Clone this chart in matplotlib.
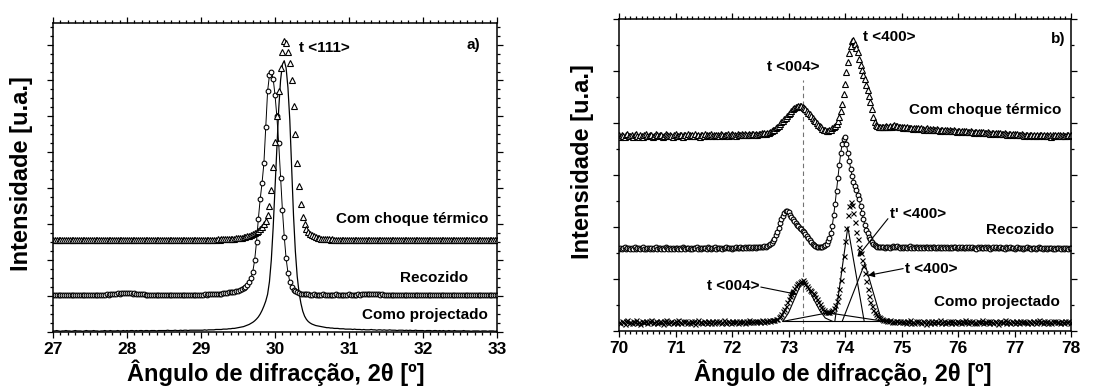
import numpy as np
import matplotlib
matplotlib.use("Agg")
import matplotlib.pyplot as plt
from matplotlib.ticker import MultipleLocator

plt.rcParams['font.family'] = ['Liberation Sans', 'DejaVu Sans']
plt.rcParams['font.weight'] = 'bold'

# ---- a) pico t<111>, varrimento 27-33 graus, passo 0.025 ----
x_a = np.linspace(27, 33, 241)

como_a = [
    0.03, 0.03, 0.04, 0.03, 0.02, 0.03, 0.03, 0.04, 0.03, 0.03,
    0.02, 0.03, 0.04, 0.03, 0.03, 0.03, 0.02, 0.03, 0.04, 0.03,
    0.03, 0.03, 0.04, 0.03, 0.03, 0.02, 0.03, 0.03, 0.04, 0.03,
    0.03, 0.04, 0.03, 0.03, 0.03, 0.04, 0.03, 0.03, 0.04, 0.03,
    0.04, 0.03, 0.04, 0.04, 0.03, 0.04, 0.03, 0.04, 0.04, 0.03,
    0.04, 0.04, 0.03, 0.04, 0.04, 0.04, 0.03, 0.04, 0.04, 0.04,
    0.04, 0.04, 0.05, 0.04, 0.04, 0.04, 0.05, 0.04, 0.04, 0.05,
    0.04, 0.05, 0.05, 0.04, 0.05, 0.05, 0.05, 0.05, 0.05, 0.05,
    0.05, 0.05, 0.06, 0.05, 0.06, 0.06, 0.06, 0.06, 0.07, 0.07,
    0.07, 0.07, 0.08, 0.08, 0.08, 0.09, 0.09, 0.10, 0.10, 0.11,
    0.12, 0.13, 0.14, 0.15, 0.17, 0.19, 0.21, 0.24, 0.27, 0.31,
    0.36, 0.42, 0.50, 0.60, 0.72, 0.86, 1.05, 1.40, 2.00, 2.90,
    4.00, 5.15, 6.20, 7.00, 7.45, 7.55, 7.35, 6.80, 5.90, 4.60,
    3.25, 2.25, 1.55, 1.10, 0.80, 0.58, 0.44, 0.35, 0.29, 0.25,
    0.22, 0.20, 0.18, 0.17, 0.16, 0.15, 0.14, 0.13, 0.12, 0.12,
    0.11, 0.11, 0.10, 0.10, 0.10, 0.09, 0.09, 0.09, 0.08, 0.08,
    0.08, 0.08, 0.07, 0.08, 0.07, 0.07, 0.07, 0.06, 0.07, 0.06,
    0.06, 0.06, 0.07, 0.06, 0.06, 0.05, 0.06, 0.06, 0.05, 0.06,
    0.05, 0.05, 0.06, 0.05, 0.05, 0.05, 0.04, 0.05, 0.05, 0.05,
    0.04, 0.05, 0.04, 0.05, 0.04, 0.04, 0.05, 0.04, 0.04, 0.04,
    0.04, 0.03, 0.04, 0.04, 0.04, 0.03, 0.04, 0.04, 0.03, 0.04,
    0.03, 0.04, 0.03, 0.03, 0.04, 0.03, 0.03, 0.04, 0.03, 0.03,
    0.03, 0.03, 0.04, 0.03, 0.03, 0.03, 0.02, 0.03, 0.03, 0.03,
    0.03, 0.02, 0.03, 0.03, 0.03, 0.02, 0.03, 0.03, 0.03, 0.02,
    0.03,
]

recozido_a = [
    1.03, 1.02, 1.04, 1.03, 1.02, 1.03, 1.04, 1.02, 1.03, 1.03,
    1.02, 1.04, 1.03, 1.02, 1.03, 1.04, 1.03, 1.02, 1.03, 1.04,
    1.03, 1.03, 1.02, 1.04, 1.03, 1.03, 1.04, 1.03, 1.04, 1.05,
    1.04, 1.05, 1.06, 1.06, 1.07, 1.08, 1.07, 1.08, 1.09, 1.08,
    1.08, 1.09, 1.08, 1.07, 1.08, 1.07, 1.06, 1.06, 1.05, 1.05,
    1.04, 1.04, 1.03, 1.04, 1.03, 1.03, 1.04, 1.03, 1.02, 1.03,
    1.03, 1.04, 1.03, 1.02, 1.03, 1.03, 1.04, 1.03, 1.03, 1.02,
    1.03, 1.04, 1.03, 1.03, 1.04, 1.03, 1.04, 1.04, 1.03, 1.04,
    1.04, 1.04, 1.05, 1.04, 1.05, 1.05, 1.05, 1.06, 1.06, 1.06,
    1.07, 1.07, 1.08, 1.08, 1.09, 1.10, 1.11, 1.11, 1.12, 1.13,
    1.14, 1.16, 1.19, 1.22, 1.26, 1.31, 1.38, 1.50, 1.68, 2.00,
    2.50, 3.15, 3.70, 4.15, 4.70, 5.70, 6.70, 7.15, 7.25, 7.05,
    6.60, 6.00, 5.25, 4.30, 3.40, 2.65, 2.05, 1.65, 1.40, 1.26,
    1.18, 1.13, 1.10, 1.08, 1.07, 1.06, 1.06, 1.05, 1.05, 1.04,
    1.04, 1.05, 1.04, 1.04, 1.03, 1.04, 1.05, 1.04, 1.03, 1.04,
    1.04, 1.03, 1.04, 1.05, 1.04, 1.03, 1.04, 1.04, 1.03, 1.04,
    1.05, 1.04, 1.04, 1.03, 1.04, 1.05, 1.04, 1.05, 1.05, 1.06,
    1.06, 1.07, 1.06, 1.07, 1.06, 1.05, 1.05, 1.04, 1.05, 1.04,
    1.03, 1.04, 1.04, 1.03, 1.04, 1.03, 1.04, 1.03, 1.03, 1.04,
    1.03, 1.04, 1.03, 1.02, 1.03, 1.04, 1.03, 1.03, 1.02, 1.03,
    1.04, 1.03, 1.02, 1.03, 1.03, 1.04, 1.03, 1.02, 1.03, 1.03,
    1.02, 1.03, 1.04, 1.03, 1.03, 1.02, 1.03, 1.03, 1.04, 1.03,
    1.02, 1.03, 1.03, 1.02, 1.03, 1.04, 1.03, 1.02, 1.03, 1.03,
    1.02, 1.03, 1.03, 1.04, 1.03, 1.02, 1.03, 1.03, 1.02, 1.03,
    1.04,
]

choque_a = [
    2.56, 2.55, 2.57, 2.56, 2.55, 2.56, 2.57, 2.56, 2.55, 2.56,
    2.57, 2.56, 2.55, 2.56, 2.56, 2.57, 2.55, 2.56, 2.57, 2.56,
    2.56, 2.55, 2.56, 2.57, 2.56, 2.56, 2.55, 2.57, 2.56, 2.56,
    2.57, 2.56, 2.55, 2.56, 2.57, 2.56, 2.56, 2.55, 2.56, 2.57,
    2.56, 2.56, 2.57, 2.55, 2.56, 2.56, 2.57, 2.56, 2.55, 2.56,
    2.56, 2.57, 2.56, 2.56, 2.55, 2.56, 2.57, 2.56, 2.56, 2.55,
    2.56, 2.57, 2.56, 2.56, 2.55, 2.56, 2.56, 2.57, 2.56, 2.56,
    2.55, 2.56, 2.57, 2.56, 2.56, 2.56, 2.57, 2.56, 2.56, 2.57,
    2.56, 2.57, 2.56, 2.56, 2.57, 2.57, 2.56, 2.57, 2.57, 2.58,
    2.57, 2.58, 2.58, 2.58, 2.59, 2.59, 2.59, 2.60, 2.60, 2.61,
    2.61, 2.62, 2.63, 2.64, 2.65, 2.67, 2.68, 2.70, 2.72, 2.75,
    2.78, 2.82, 2.87, 2.93, 3.00, 3.10, 3.25, 3.50, 3.95, 4.60,
    5.30, 6.00, 6.70, 7.35, 7.80, 8.10, 8.05, 7.80, 7.50, 7.00,
    6.30, 5.50, 4.70, 4.05, 3.55, 3.20, 3.00, 2.87, 2.79, 2.73,
    2.69, 2.66, 2.64, 2.62, 2.61, 2.60, 2.59, 2.59, 2.58, 2.58,
    2.57, 2.58, 2.57, 2.57, 2.56, 2.57, 2.57, 2.56, 2.57, 2.56,
    2.56, 2.57, 2.56, 2.55, 2.56, 2.57, 2.56, 2.56, 2.55, 2.56,
    2.57, 2.56, 2.56, 2.55, 2.56, 2.56, 2.57, 2.56, 2.55, 2.56,
    2.56, 2.57, 2.56, 2.56, 2.55, 2.56, 2.57, 2.56, 2.56, 2.55,
    2.56, 2.56, 2.57, 2.56, 2.55, 2.56, 2.56, 2.57, 2.56, 2.56,
    2.55, 2.56, 2.57, 2.56, 2.56, 2.55, 2.56, 2.57, 2.56, 2.56,
    2.56, 2.55, 2.56, 2.57, 2.56, 2.56, 2.55, 2.56, 2.56, 2.57,
    2.56, 2.55, 2.56, 2.56, 2.57, 2.56, 2.55, 2.56, 2.56, 2.57,
    2.56, 2.56, 2.55, 2.56, 2.57, 2.56, 2.56, 2.55, 2.56, 2.56,
    2.57,
]

# ---- b) picos t<004>/t<400>, varrimento 70-78 graus, passo 0.025 ----
x_b = np.linspace(70, 78, 321)

choque_b = [
    7.52, 7.48, 7.55, 7.50, 7.46, 7.53, 7.57, 7.49, 7.51, 7.55,
    7.47, 7.52, 7.56, 7.50, 7.48, 7.54, 7.51, 7.46, 7.53, 7.57,
    7.50, 7.49, 7.55, 7.52, 7.47, 7.51, 7.56, 7.53, 7.49, 7.52,
    7.55, 7.48, 7.51, 7.57, 7.52, 7.49, 7.54, 7.50, 7.47, 7.53,
    7.56, 7.51, 7.49, 7.54, 7.52, 7.48, 7.55, 7.53, 7.50, 7.57,
    7.52, 7.49, 7.54, 7.51, 7.56, 7.50, 7.53, 7.48, 7.55, 7.52,
    7.50, 7.56, 7.53, 7.49, 7.52, 7.57, 7.51, 7.54, 7.50, 7.55,
    7.53, 7.49, 7.56, 7.52, 7.50, 7.55, 7.53, 7.58, 7.51, 7.54,
    7.56, 7.52, 7.55, 7.50, 7.57, 7.54, 7.52, 7.56, 7.53, 7.58,
    7.55, 7.52, 7.57, 7.54, 7.56, 7.59, 7.53, 7.57, 7.55, 7.58,
    7.56, 7.60, 7.57, 7.61, 7.59, 7.63, 7.62, 7.66, 7.68, 7.72,
    7.75, 7.80, 7.84, 7.90, 7.95, 8.02, 8.08, 8.14, 8.20, 8.27,
    8.33, 8.40, 8.46, 8.52, 8.56, 8.60, 8.63, 8.65, 8.66, 8.64,
    8.62, 8.58, 8.53, 8.47, 8.40, 8.33, 8.26, 8.19, 8.12, 8.06,
    8.00, 7.94, 7.88, 7.83, 7.78, 7.74, 7.72, 7.70, 7.70, 7.72,
    7.75, 7.79, 7.84, 7.90, 7.98, 8.08, 8.22, 8.45, 8.75, 9.10,
    9.50, 9.95, 10.35, 10.70, 10.98, 11.15, 11.20, 11.05, 10.88, 10.72,
    10.48, 10.22, 10.02, 9.85, 9.68, 9.48, 9.28, 9.05, 8.80, 8.52,
    8.25, 8.05, 7.93, 7.88, 7.85, 7.84, 7.86, 7.83, 7.85, 7.87,
    7.84, 7.86, 7.88, 7.85, 7.89, 7.91, 7.88, 7.90, 7.86, 7.84,
    7.85, 7.82, 7.84, 7.80, 7.83, 7.81, 7.79, 7.82, 7.78, 7.80,
    7.81, 7.77, 7.79, 7.76, 7.80, 7.78, 7.75, 7.77, 7.79, 7.74,
    7.76, 7.73, 7.77, 7.75, 7.72, 7.76, 7.74, 7.71, 7.75, 7.73,
    7.70, 7.74, 7.72, 7.69, 7.73, 7.71, 7.68, 7.72, 7.70, 7.67,
    7.71, 7.69, 7.66, 7.70, 7.68, 7.65, 7.69, 7.67, 7.64, 7.68,
    7.66, 7.63, 7.67, 7.65, 7.62, 7.66, 7.64, 7.61, 7.65, 7.63,
    7.60, 7.64, 7.62, 7.59, 7.63, 7.61, 7.58, 7.62, 7.60, 7.57,
    7.61, 7.59, 7.56, 7.60, 7.58, 7.55, 7.59, 7.57, 7.54, 7.58,
    7.56, 7.53, 7.57, 7.55, 7.52, 7.56, 7.54, 7.51, 7.55, 7.53,
    7.50, 7.54, 7.52, 7.49, 7.53, 7.51, 7.55, 7.50, 7.52, 7.54,
    7.49, 7.53, 7.51, 7.55, 7.50, 7.52, 7.48, 7.53, 7.51, 7.54,
    7.50, 7.52, 7.55, 7.49, 7.53, 7.51, 7.50, 7.54, 7.52, 7.49,
    7.52,
]

recozido_b = [
    3.17, 3.20, 3.15, 3.19, 3.22, 3.16, 3.18, 3.21, 3.14, 3.19,
    3.17, 3.22, 3.16, 3.18, 3.20, 3.15, 3.19, 3.23, 3.17, 3.16,
    3.20, 3.18, 3.15, 3.21, 3.17, 3.19, 3.22, 3.16, 3.18, 3.20,
    3.15, 3.19, 3.17, 3.22, 3.18, 3.16, 3.20, 3.17, 3.19, 3.15,
    3.21, 3.18, 3.16, 3.20, 3.17, 3.22, 3.18, 3.15, 3.19, 3.21,
    3.17, 3.19, 3.16, 3.20, 3.18, 3.22, 3.17, 3.19, 3.16, 3.21,
    3.18, 3.20, 3.17, 3.23, 3.19, 3.16, 3.20, 3.18, 3.22, 3.17,
    3.19, 3.21, 3.18, 3.16, 3.20, 3.19, 3.22, 3.18, 3.21, 3.19,
    3.17, 3.21, 3.19, 3.23, 3.18, 3.20, 3.22, 3.19, 3.21, 3.24,
    3.20, 3.22, 3.19, 3.23, 3.21, 3.24, 3.22, 3.20, 3.25, 3.23,
    3.22, 3.25, 3.23, 3.26, 3.25, 3.28, 3.30, 3.34, 3.38, 3.45,
    3.55, 3.68, 3.82, 3.98, 4.15, 4.30, 4.44, 4.55, 4.62, 4.63,
    4.58, 4.48, 4.38, 4.30, 4.22, 4.15, 4.08, 4.02, 3.96, 3.91,
    3.86, 3.80, 3.73, 3.65, 3.57, 3.50, 3.42, 3.36, 3.31, 3.27,
    3.24, 3.23, 3.22, 3.23, 3.24, 3.26, 3.30, 3.36, 3.45, 3.58,
    3.78, 4.05, 4.45, 4.90, 5.40, 5.90, 6.40, 6.85, 7.20, 7.40,
    7.46, 7.20, 6.85, 6.55, 6.25, 5.98, 5.75, 5.58, 5.42, 5.25,
    5.06, 4.82, 4.55, 4.30, 4.08, 3.90, 3.76, 3.63, 3.52, 3.43,
    3.36, 3.31, 3.28, 3.25, 3.24, 3.22, 3.25, 3.23, 3.21, 3.24,
    3.22, 3.25, 3.21, 3.23, 3.26, 3.22, 3.24, 3.27, 3.23, 3.21,
    3.24, 3.21, 3.25, 3.22, 3.19, 3.23, 3.26, 3.21, 3.24, 3.20,
    3.22, 3.25, 3.19, 3.23, 3.21, 3.24, 3.18, 3.22, 3.25, 3.20,
    3.23, 3.19, 3.22, 3.24, 3.20, 3.18, 3.23, 3.21, 3.25, 3.19,
    3.22, 3.20, 3.24, 3.18, 3.21, 3.23, 3.19, 3.22, 3.25, 3.20,
    3.18, 3.22, 3.20, 3.24, 3.19, 3.21, 3.23, 3.18, 3.22, 3.20,
    3.24, 3.19, 3.21, 3.17, 3.22, 3.20, 3.23, 3.18, 3.21, 3.24,
    3.19, 3.22, 3.20, 3.17, 3.21, 3.23, 3.19, 3.22, 3.18, 3.20,
    3.23, 3.19, 3.21, 3.17, 3.22, 3.20, 3.18, 3.23, 3.19, 3.21,
    3.17, 3.20, 3.22, 3.18, 3.21, 3.19, 3.16, 3.21, 3.19, 3.22,
    3.18, 3.20, 3.17, 3.21, 3.19, 3.16, 3.20, 3.22, 3.18, 3.19,
    3.17, 3.21, 3.19, 3.16, 3.20, 3.18, 3.21, 3.17, 3.19, 3.16,
    3.20, 3.18, 3.21, 3.17, 3.19, 3.16, 3.20, 3.18, 3.17, 3.19,
    3.18,
]

como_b = [
    0.35, 0.30, 0.40, 0.33, 0.28, 0.37, 0.42, 0.32, 0.36, 0.29,
    0.38, 0.34, 0.41, 0.31, 0.36, 0.27, 0.39, 0.35, 0.33, 0.40,
    0.30, 0.37, 0.34, 0.42, 0.29, 0.36, 0.38, 0.31, 0.35, 0.40,
    0.33, 0.28, 0.37, 0.41, 0.34, 0.30, 0.36, 0.39, 0.32, 0.35,
    0.38, 0.31, 0.43, 0.34, 0.29, 0.37, 0.35, 0.40, 0.32, 0.36,
    0.30, 0.39, 0.34, 0.37, 0.28, 0.35, 0.41, 0.33, 0.36, 0.31,
    0.38, 0.34, 0.30, 0.40, 0.35, 0.32, 0.37, 0.29, 0.36, 0.39,
    0.33, 0.37, 0.31, 0.35, 0.41, 0.34, 0.30, 0.38, 0.36, 0.32,
    0.39, 0.35, 0.33, 0.37, 0.30, 0.40, 0.36, 0.34, 0.38, 0.32,
    0.37, 0.35, 0.41, 0.33, 0.38, 0.36, 0.40, 0.34, 0.39, 0.37,
    0.36, 0.41, 0.38, 0.35, 0.40, 0.37, 0.42, 0.39, 0.41, 0.44,
    0.42, 0.46, 0.48, 0.52, 0.58, 0.66, 0.76, 0.86, 0.98, 1.10,
    1.22, 1.33, 1.44, 1.55, 1.64, 1.72, 1.79, 1.85, 1.90, 1.94,
    1.95, 1.90, 1.80, 1.72, 1.66, 1.58, 1.52, 1.47, 1.42, 1.32,
    1.22, 1.12, 1.02, 0.92, 0.85, 0.79, 0.75, 0.73, 0.72, 0.74,
    0.77, 0.82, 0.90, 1.00, 1.15, 1.35, 1.62, 1.95, 2.38, 2.90,
    3.45, 3.98, 4.45, 4.82, 4.96, 4.85, 4.55, 4.18, 3.82, 3.52,
    3.25, 3.00, 2.75, 2.50, 2.22, 1.92, 1.62, 1.35, 1.12, 0.95,
    0.82, 0.72, 0.64, 0.58, 0.53, 0.49, 0.46, 0.44, 0.41, 0.43,
    0.40, 0.38, 0.41, 0.36, 0.39, 0.35, 0.40, 0.37, 0.34, 0.38,
    0.33, 0.39, 0.35, 0.30, 0.38, 0.34, 0.41, 0.32, 0.36, 0.29,
    0.37, 0.33, 0.40, 0.35, 0.31, 0.38, 0.34, 0.28, 0.36, 0.40,
    0.32, 0.37, 0.35, 0.30, 0.39, 0.33, 0.36, 0.41, 0.31, 0.35,
    0.38, 0.29, 0.36, 0.34, 0.40, 0.32, 0.37, 0.35, 0.30, 0.39,
    0.34, 0.36, 0.31, 0.38, 0.33, 0.42, 0.35, 0.29, 0.37, 0.34,
    0.40, 0.32, 0.36, 0.30, 0.38, 0.35, 0.33, 0.41, 0.31, 0.36,
    0.34, 0.39, 0.30, 0.37, 0.35, 0.32, 0.40, 0.34, 0.28, 0.36,
    0.38, 0.33, 0.35, 0.41, 0.31, 0.37, 0.34, 0.30, 0.39, 0.35,
    0.32, 0.38, 0.36, 0.29, 0.37, 0.34, 0.40, 0.33, 0.35, 0.31,
    0.39, 0.36, 0.32, 0.38, 0.34, 0.30, 0.37, 0.41, 0.33, 0.35,
    0.31, 0.38, 0.35, 0.40, 0.32, 0.36, 0.29, 0.37, 0.34, 0.39,
    0.33, 0.36, 0.30, 0.38, 0.35, 0.32, 0.40, 0.34, 0.37, 0.31,
    0.35,
]

# componentes do ajuste (amostra como projectada)
fit_004_x = [72.90, 73.00, 73.10, 73.20, 73.26, 73.35, 73.45, 73.55, 73.65, 73.78]
fit_004_y = [0.37, 0.70, 1.20, 1.70, 1.86, 1.65, 1.20, 0.80, 0.50, 0.37]
fit_fundo_x = [72.90, 73.70, 74.70]
fit_fundo_y = [0.37, 0.70, 0.37]
fit_t1_x = [73.82, 74.05, 74.34]
fit_t1_y = [0.37, 4.00, 0.37]
fit_t2_x = [73.95, 74.35, 74.65]
fit_t2_y = [0.37, 2.60, 0.37]
fit_base_x = [72.90, 74.70]
fit_base_y = [0.37, 0.37]
pos_004 = 73.26

W, H = 1109, 392
fig = plt.figure(figsize=(W / 100, H / 100), dpi=100)
ax1 = fig.add_axes([53 / W, 1 - 332 / H, 444 / W, 309 / H])
ax2 = fig.add_axes([619 / W, 1 - 331 / H, 452 / W, 312 / H])


def estilo(ax, ymaj, ymin):
    ax.xaxis.set_major_locator(MultipleLocator(1))
    ax.xaxis.set_minor_locator(MultipleLocator(0.1))
    ax.yaxis.set_major_locator(MultipleLocator(ymaj))
    ax.yaxis.set_minor_locator(MultipleLocator(ymin))
    ax.tick_params(which='both', direction='out', top=True, right=True,
                   width=0.9, labelleft=False, labelsize=12.5, pad=3)
    ax.tick_params(which='major', length=4.2)
    ax.tick_params(which='minor', length=2.3)
    for s in ax.spines.values():
        s.set_linewidth(1.1)
    for lab in ax.get_xticklabels():
        lab.set_fontweight('bold')


mk = dict(mfc='white', mec='k', mew=0.8)

# painel a)
ax1.plot(x_a, como_a, color='k', lw=0.9)
ax1.plot(x_a, recozido_a, color='k', lw=0.7, marker='o', ms=3.4, **mk)
ax1.plot(x_a, choque_a, ls='none', marker='^', ms=3.8, **mk)
ax1.set_xlim(27, 33)
ax1.set_ylim(0, 8.6)
estilo(ax1, 1, 0.25)

txt = dict(fontsize=11, fontweight='bold')
ax1.text(30.33, 7.91, 't <111>', ha='left', va='center', **txt)
ax1.text(32.77, 8.0, 'a)', ha='right', va='center', **txt)
ax1.text(32.88, 3.14, 'Com choque térmico', ha='right', va='center', **txt)
ax1.text(32.61, 1.49, 'Recozido', ha='right', va='center', **txt)
ax1.text(32.88, 0.48, 'Como projectado', ha='right', va='center', **txt)

# painel b)
ax2.plot([pos_004, pos_004], [0, 9.65], color='0.45', lw=0.8, ls=(0, (4, 3)))
for fx, fy in [(fit_base_x, fit_base_y), (fit_fundo_x, fit_fundo_y),
               (fit_004_x, fit_004_y), (fit_t1_x, fit_t1_y),
               (fit_t2_x, fit_t2_y)]:
    ax2.plot(fx, fy, color='k', lw=0.8)
ax2.plot(x_b, como_b, ls='none', marker='x', ms=3.6, mec='k', mew=0.8)
ax2.plot(x_b, recozido_b, color='k', lw=0.7, marker='o', ms=3.4, **mk)
ax2.plot(x_b, choque_b, ls='none', marker='^', ms=3.8, **mk)
ax2.set_xlim(70, 78)
ax2.set_ylim(0, 12)
estilo(ax2, 2, 1)

seta = dict(arrowstyle='-|>', color='k', lw=0.8, mutation_scale=9,
            shrinkA=0, shrinkB=0)
ax2.text(74.32, 11.31, 't <400>', ha='left', va='center', **txt)
ax2.text(73.09, 10.15, 't <004>', ha='center', va='center', **txt)
ax2.text(77.9, 11.24, 'b)', ha='right', va='center', **txt)
ax2.text(77.83, 8.51, 'Com choque térmico', ha='right', va='center', **txt)
ax2.text(77.71, 3.87, 'Recozido', ha='right', va='center', **txt)
ax2.text(77.8, 1.12, 'Como projectado', ha='right', va='center', **txt)
ax2.text(74.79, 4.51, "t' <400>", ha='left', va='center', **txt)
ax2.annotate('', xy=(74.22, 2.85), xytext=(74.76, 4.32), arrowprops=seta)
ax2.text(75.06, 2.40, 't <400>', ha='left', va='center', **txt)
ax2.annotate('', xy=(74.41, 2.14), xytext=(75.03, 2.40), arrowprops=seta)
ax2.text(72.49, 1.72, 't <004>', ha='right', va='center', **txt)
ax2.annotate('', xy=(73.15, 1.41), xytext=(72.51, 1.69), arrowprops=seta)

# titulos dos eixos
lab = dict(fontsize=17, fontweight='bold')
fig.text(22 / W, 1 - 174 / H, 'Intensidade [u.a.]', rotation=90,
         ha='center', va='center', **lab)
fig.text(583 / W, 1 - 162 / H, 'Intensidade [u.a.]', rotation=90,
         ha='center', va='center', **lab)
fig.text(276 / W, 1 - 381 / H, 'Ângulo de difracção, 2θ [º]',
         ha='center', va='baseline', **lab)
fig.text(843 / W, 1 - 381 / H, 'Ângulo de difracção, 2θ [º]',
         ha='center', va='baseline', **lab)

fig.savefig('out.png', dpi=100)
